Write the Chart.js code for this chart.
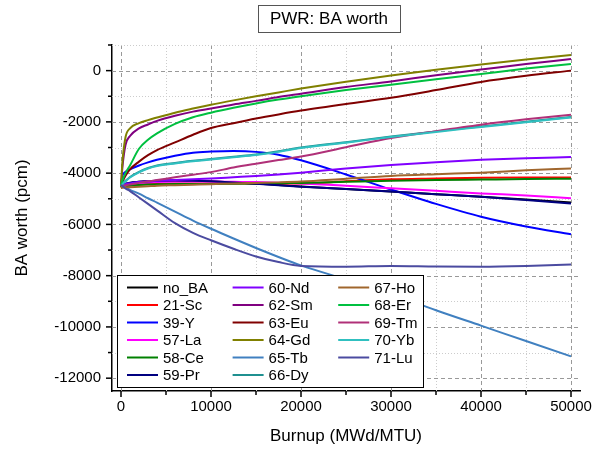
<!DOCTYPE html>
<html lang="en">
<head>
<meta charset="UTF-8">
<title>PWR: BA worth</title>
<script src="https://cdn.jsdelivr.net/npm/chart.js@4"></script>
<style>
  body { margin: 0; background: #fff; }
  canvas { display: block; }
</style>
</head>
<body>
<canvas id="worth" width="603" height="450"></canvas>
<script>
// burnup steps (MWd/MTU) shared by every case
const burnup = [0, 150, 500, 1000, 2000, 3000, 4000, 6000, 8000, 10000, 12500, 15000, 17500, 20000, 25000, 30000, 35000, 40000, 45000, 50000];

// BA worth (pcm) per burnable absorber
const noBA = [-4500, -4470, -4420, -4380, -4340, -4310, -4300, -4290, -4300, -4320, -4360, -4410, -4460, -4520, -4620, -4720, -4820, -4920, -5030, -5150];
const sc21 = [-4550, -4530, -4500, -4470, -4440, -4420, -4410, -4400, -4400, -4400, -4400, -4400, -4400, -4400, -4320, -4240, -4210, -4180, -4170, -4170];
const y39 = [-4450, -4100, -3950, -3850, -3700, -3580, -3480, -3320, -3200, -3160, -3140, -3170, -3280, -3500, -4050, -4640, -5200, -5700, -6080, -6380];
const la57 = [-4500, -4480, -4450, -4420, -4390, -4370, -4350, -4330, -4330, -4330, -4340, -4350, -4370, -4400, -4490, -4590, -4690, -4790, -4870, -4980];
const ce58 = [-4550, -4530, -4510, -4490, -4460, -4440, -4430, -4420, -4420, -4420, -4410, -4400, -4390, -4380, -4340, -4300, -4270, -4250, -4230, -4220];
const pr59 = [-4500, -4460, -4410, -4370, -4340, -4320, -4300, -4290, -4300, -4320, -4360, -4410, -4470, -4530, -4620, -4720, -4820, -4920, -5050, -5180];
const nd60 = [-4500, -4470, -4430, -4400, -4350, -4320, -4300, -4270, -4240, -4210, -4160, -4110, -4050, -3980, -3820, -3680, -3570, -3480, -3420, -3370];
const sm62 = [-4550, -3800, -2900, -2550, -2250, -2100, -1960, -1760, -1600, -1480, -1320, -1180, -1030, -900, -640, -420, -180, 40, 260, 450];
const eu63 = [-4500, -4350, -4100, -3850, -3550, -3300, -3100, -2800, -2500, -2240, -2050, -1870, -1710, -1560, -1300, -1060, -760, -440, -200, 0];
const gd64 = [-4550, -3600, -2600, -2250, -2050, -1930, -1830, -1640, -1480, -1330, -1160, -1000, -850, -700, -430, -190, 30, 240, 430, 610];
const tb65 = [-4450, -4480, -4550, -4650, -4800, -4980, -5150, -5500, -5850, -6170, -6550, -6920, -7270, -7600, -8150, -8700, -9350, -9950, -10550, -11150];
const dy66 = [-4500, -4420, -4300, -4150, -3950, -3800, -3700, -3600, -3520, -3450, -3360, -3270, -3150, -3000, -2790, -2570, -2370, -2180, -1990, -1810];
const ho67 = [-4580, -4570, -4560, -4550, -4530, -4510, -4490, -4470, -4450, -4430, -4400, -4380, -4360, -4330, -4220, -4110, -4040, -3980, -3890, -3820];
const er68 = [-4500, -4300, -4000, -3700, -3050, -2700, -2450, -2080, -1820, -1640, -1450, -1280, -1130, -1000, -760, -550, -340, -130, 80, 260];
const tm69 = [-4500, -4490, -4470, -4440, -4380, -4320, -4270, -4160, -4060, -3960, -3780, -3630, -3490, -3350, -2990, -2630, -2360, -2110, -1900, -1720];
const yb70 = [-4500, -4430, -4320, -4170, -3970, -3820, -3720, -3620, -3540, -3470, -3380, -3290, -3170, -3020, -2810, -2590, -2390, -2200, -2010, -1830];
const lu71 = [-4450, -4500, -4600, -4700, -4950, -5200, -5450, -5950, -6330, -6620, -6950, -7250, -7470, -7620, -7650, -7620, -7640, -7650, -7620, -7560];

const xMajor = [0, 10000, 20000, 30000, 40000, 50000];
const yMajor = [-12000, -10000, -8000, -6000, -4000, -2000, 0];

const series = [
  { label: 'no_BA', data: noBA, color: '#000000' },
  { label: '21-Sc', data: sc21, color: '#ff0000' },
  { label: '39-Y',  data: y39,  color: '#0000ff' },
  { label: '57-La', data: la57, color: '#ff00ff' },
  { label: '58-Ce', data: ce58, color: '#008000' },
  { label: '59-Pr', data: pr59, color: '#000080' },
  { label: '60-Nd', data: nd60, color: '#8000ff' },
  { label: '62-Sm', data: sm62, color: '#800080' },
  { label: '63-Eu', data: eu63, color: '#800000' },
  { label: '64-Gd', data: gd64, color: '#808000' },
  { label: '65-Tb', data: tb65, color: '#4080c0' },
  { label: '66-Dy', data: dy66, color: '#1f9090' },
  { label: '67-Ho', data: ho67, color: '#a0662d' },
  { label: '68-Er', data: er68, color: '#00c040' },
  { label: '69-Tm', data: tm69, color: '#b03078' },
  { label: '70-Yb', data: yb70, color: '#30c0c0' },
  { label: '71-Lu', data: lu71, color: '#4b4ba0' }
];

const FONT = '"Liberation Sans", Arial, sans-serif';

// dashed major / dotted minor grid, outward tick marks, framed title and legend
const decor = {
  id: 'decor',
  beforeDraw(chart) {
    const c = chart.ctx;
    c.save();
    c.fillStyle = '#fff';
    c.fillRect(0, 0, chart.width, chart.height);
    c.restore();
  },
  beforeDatasetsDraw(chart) {
    const c = chart.ctx, a = chart.chartArea;
    const xs = chart.scales.x, ys = chart.scales.y;
    c.save();
    c.lineWidth = 1;
    for (let v = 0; v <= 50000; v += 5000) {
      const major = v % 10000 === 0;
      const px = Math.round(xs.getPixelForValue(v)) + 0.5;
      c.strokeStyle = major ? '#999' : '#ccc';
      c.setLineDash(major ? [4, 3] : [1, 2]);
      c.beginPath(); c.moveTo(px, a.top); c.lineTo(px, a.bottom); c.stroke();
    }
    for (let v = -12000; v <= 1000; v += 1000) {
      const major = v % 2000 === 0;
      const py = Math.round(ys.getPixelForValue(v)) + 0.5;
      c.strokeStyle = major ? '#999' : '#ccc';
      c.setLineDash(major ? [4, 3] : [1, 2]);
      c.beginPath(); c.moveTo(a.left, py); c.lineTo(a.right, py); c.stroke();
    }
    c.restore();
  },
  afterDraw(chart) {
    const c = chart.ctx, a = chart.chartArea;
    const xs = chart.scales.x, ys = chart.scales.y;
    c.save();
    c.strokeStyle = '#000';
    c.lineWidth = 1.5;
    for (let v = 0; v <= 50000; v += 5000) {
      const px = xs.getPixelForValue(v);
      const len = v % 10000 === 0 ? 6 : 4;
      c.beginPath(); c.moveTo(px, a.bottom); c.lineTo(px, a.bottom + len); c.stroke();
    }
    for (let v = -12000; v <= 1000; v += 1000) {
      const py = ys.getPixelForValue(v);
      const len = v % 2000 === 0 ? 6 : 4;
      c.beginPath(); c.moveTo(a.left, py); c.lineTo(a.left - len, py); c.stroke();
    }

    // legend box
    const lx = 117, ly = 275, lw = 306, lh = 112;
    c.fillStyle = '#fff';
    c.fillRect(lx, ly, lw, lh);
    c.lineWidth = 1;
    c.strokeRect(lx + 0.5, ly + 0.5, lw, lh);
    c.font = '15px ' + FONT;
    c.textBaseline = 'middle';
    c.textAlign = 'left';
    chart.data.datasets.forEach((ds, i) => {
      const col = Math.floor(i / 6), row = i % 6;
      const x0 = lx + 10 + col * 105.6;
      const y0 = ly + 12.5 + row * 17.5;
      c.strokeStyle = ds.borderColor;
      c.lineWidth = 2;
      c.beginPath(); c.moveTo(x0, y0); c.lineTo(x0 + 31, y0); c.stroke();
      c.fillStyle = '#000';
      c.fillText(ds.label, x0 + 36, y0 + 1);
    });

    // framed title
    c.font = '17px ' + FONT;
    const t = 'PWR: BA worth';
    const tw = c.measureText(t).width;
    const cx = 329, cy = 19;
    c.fillStyle = '#000';
    c.textAlign = 'center';
    c.fillText(t, cx, cy);
    c.strokeStyle = '#555';
    c.lineWidth = 1;
    c.strokeRect(Math.round(cx - tw / 2 - 12) + 0.5, 5.5, Math.round(tw + 24), 27);
    c.restore();
  }
};

new Chart(document.getElementById('worth'), {
  type: 'line',
  data: {
    labels: burnup,
    datasets: series.map((s, i) => ({
      label: s.label,
      data: burnup.map((b, k) => ({ x: b, y: s.data[k] })),
      borderColor: s.color,
      backgroundColor: s.color,
      borderWidth: 2,
      pointRadius: 0,
      fill: false,
      cubicInterpolationMode: 'monotone',
      order: series.length - i
    }))
  },
  options: {
    responsive: false,
    animation: false,
    layout: { padding: { top: 45, right: 23, left: 0, bottom: 0 } },
    plugins: { legend: { display: false }, title: { display: false }, tooltip: { enabled: false } },
    scales: {
      x: {
        type: 'linear',
        min: -1000,
        max: 51000,
        afterBuildTicks: s => { s.ticks = xMajor.map(v => ({ value: v })); },
        afterFit: s => { s.height = 59; },
        grid: { display: false, drawTicks: false },
        border: { display: true, color: '#000', width: 1.5 },
        ticks: { color: '#000', font: { family: FONT, size: 15 }, padding: 7, maxRotation: 0, autoSkip: false, callback: v => String(v) },
        title: { display: true, text: 'Burnup (MWd/MTU)', color: '#000', font: { family: FONT, size: 17 }, padding: { top: 0, bottom: 3 } }
      },
      y: {
        type: 'linear',
        min: -12500,
        max: 1000,
        afterBuildTicks: s => { s.ticks = yMajor.map(v => ({ value: v })); },
        afterFit: s => { s.width = 112; },
        grid: { display: false, drawTicks: false },
        border: { display: true, color: '#000', width: 1.5 },
        ticks: { color: '#000', font: { family: FONT, size: 15 }, padding: 11, autoSkip: false, callback: v => String(v) },
        title: { display: true, text: 'BA worth (pcm)', color: '#000', font: { family: FONT, size: 17 }, padding: { top: 12, bottom: 0 } }
      }
    }
  },
  plugins: [decor]
});
</script>
</body>
</html>
